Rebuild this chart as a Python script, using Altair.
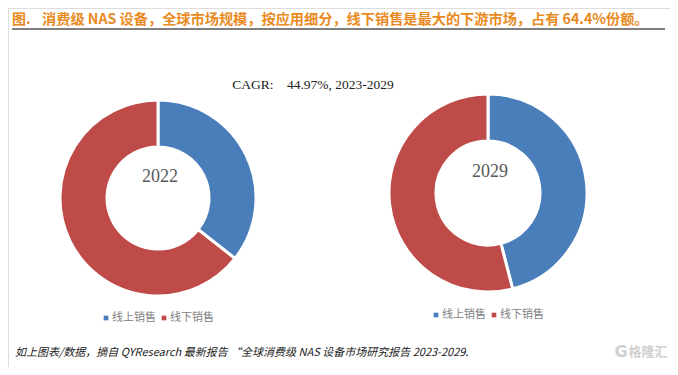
import altair as alt
import pandas as pd

# ---- data ----
years = ["2022", "2029"]
categories = ["线上销售", "线下销售"]
share_2022 = [35.6, 64.4]
share_2029 = [46.0, 54.0]
colors = ["#4A7EBB", "#BE4B48"]

title_prefix = "图."
title_text = "消费级 NAS 设备，全球市场规模，按应用细分，线下销售是最大的下游市场，占有 64.4%份额。"
cagr_text = "CAGR:\u00a0\u00a0\u00a0\u00a044.97%,\u00a02023-2029"
source_text = "如上图表/数据，摘自 QYResearch 最新报告 “全球消费级 NAS 设备市场研究报告 2023-2029."
watermark = "格隆汇"

W, H = 662, 359

df = pd.DataFrame({
    "year": [years[0]] * 2 + [years[1]] * 2,
    "cat": categories * 2,
    "order": [0, 1, 0, 1],
    "value": share_2022 + share_2029,
})

color_scale = alt.Scale(domain=categories, range=colors)

def donut(year, cx, cy, r_out, r_in):
    return alt.Chart(df).transform_filter(alt.datum.year == year).mark_arc(
        outerRadius=r_out, innerRadius=r_in, stroke="white", strokeWidth=3
    ).encode(
        theta=alt.Theta("value:Q", stack=True, scale=alt.Scale(domain=[0, 100])),
        color=alt.Color("cat:N", scale=color_scale, legend=None),
        order=alt.Order("order:Q"),
        x=alt.value(cx),
        y=alt.value(cy),
    )

def text(t, x, y, **kw):
    return alt.Chart(pd.DataFrame({"t": [t]})).mark_text(**kw).encode(
        text="t:N", x=alt.value(x), y=alt.value(y)
    )

def legend(x0, y0):
    leg = pd.DataFrame({
        "cat": categories,
        "lx": [x0, x0 + 58],
    })
    sq = alt.Chart(leg).mark_square(size=22, opacity=1).encode(
        x=alt.X("lx:Q", scale=None), y=alt.value(y0),
        color=alt.Color("cat:N", scale=color_scale, legend=None),
    )
    tx = alt.Chart(leg).transform_calculate(tx="datum.lx + 6").mark_text(
        align="left", baseline="middle", fontSize=11, color="#7f7f7f",
        font="Noto Sans CJK SC"
    ).encode(x=alt.X("tx:Q", scale=None), y=alt.value(y0), text="cat:N")
    return sq + tx

title_rule = alt.Chart(pd.DataFrame({"a": [0]})).mark_rule(color="black", strokeWidth=1.2).encode(
    x=alt.value(4), x2=alt.value(657), y=alt.value(21)
)

layers = [
    text(title_prefix, 4, 12, align="left", baseline="middle", fontSize=14, fontWeight="bold",
         color="#E98A1E", font="Noto Sans CJK SC"),
    text(title_text, 34, 12, align="left", baseline="middle", fontSize=14.2, fontWeight="bold",
         color="#E98A1E", font="Noto Sans CJK SC"),
    title_rule,
    text(cagr_text, 305, 77, align="center", baseline="middle", fontSize=13.5, color="#222222",
         font="Liberation Serif"),
    donut("2022", 150, 190, 98, 51),
    donut("2029", 480, 185, 99, 52),
    text("2022", 152, 169, align="center", baseline="middle", fontSize=18, color="#595959",
         font="Liberation Serif"),
    text("2029", 482, 164, align="center", baseline="middle", fontSize=18, color="#595959",
         font="Liberation Serif"),
    legend(98, 310),
    legend(428, 307),
    text(source_text, 7, 345, align="left", baseline="middle", fontSize=11, fontStyle="italic",
         color="#222222", font="Noto Sans CJK SC"),
    text(watermark, 640, 344, align="center", baseline="middle", fontSize=13, fontWeight="bold",
         color="#d0d0d0", font="Noto Sans CJK SC"),
    text("G", 613, 344, align="center", baseline="middle", fontSize=16, fontWeight="bold",
         color="#d0d0d0", font="DejaVu Sans"),
]

chart = alt.layer(*layers).properties(
    width=W, height=H, padding=0, autosize=alt.AutoSizeParams(type="none")
).configure_view(stroke=None).configure(background="white")

chart.save("out.html", embed_options={"renderer": "svg", "actions": False})
